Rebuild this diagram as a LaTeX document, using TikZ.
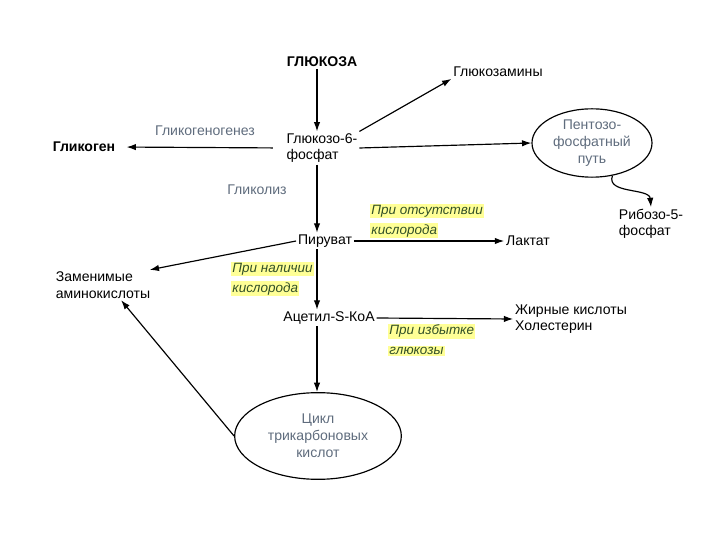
\documentclass[tikz,border=0pt]{standalone}
\usepackage{fontspec}
\setmainfont{Liberation Sans}
\usetikzlibrary{arrows.meta,shapes.geometric}

\definecolor{notegray}{RGB}{95,108,125}
\definecolor{hlyellow}{RGB}{255,255,150}
\definecolor{hlgreen}{RGB}{50,80,40}
\newcommand{\marker}[1]{{\setlength{\fboxsep}{1pt}\colorbox{hlyellow}{#1}}}

\begin{document}
\begin{tikzpicture}[x=0.03cm, y=-0.03cm,
    subst/.style={font=\fontsize{12}{14}\selectfont, align=left, inner sep=1.5pt},
    note/.style={notegray, font=\fontsize{12}{14}\selectfont},
    cond/.style={hlgreen, font=\fontsize{11.5}{17}\selectfont\itshape, align=left, inner sep=0pt},
    cycle/.style={draw=black, ellipse, line width=1pt, text=notegray, align=center,
                  inner sep=0pt, font=\fontsize{12}{14.5}\selectfont},
    flow/.style={-{Latex[length=8pt, width=5.5pt]}, line width=1pt}]
  \useasboundingbox (0,0) rectangle (720,540);
  \coordinate (col) at (317,0);

  % substances
  \node[subst, font=\fontsize{12}{14}\selectfont\bfseries] (glu) at (322,62) {ГЛЮКОЗА};
  \node[subst] (g6p)   at (322,148) {Глюкозо-6-\\фосфат};
  \node[subst] (gluam) at (498,72)  {Глюкозамины};
  \node[subst, font=\fontsize{12}{14}\selectfont\bfseries] (glyc) at (84,147) {Гликоген};
  \node[subst] (pyr)   at (325,241) {Пируват};
  \node[subst] (lac)   at (528,241) {Лактат};
  \node[subst] (amino) at (103,285) {Заменимые\\аминокислоты};
  \node[subst] (acet)  at (329,318) {Ацетил-S-КоА};
  \node[subst] (fat)   at (571,319) {Жирные кислоты\\Холестерин};
  \node[subst] (rib)   at (651,224) {Рибозо-5-\\фосфат};

  % cycles
  \node[cycle, minimum width=3.6cm, minimum height=2.05cm] (ppp) at (592,143) {Пентозо-\\фосфатный\\путь};
  \node[cycle, minimum width=5cm, minimum height=2.6cm]    (tca) at (318,436) {Цикл\\трикарбоновых\\кислот};

  % labels
  \node[note] (lglycogen) at (205,131) {Гликогеногенез};
  \node[note] (lglycol)   at (257,190) {Гликолиз};
  \node[cond, anchor=west] (lanaer) at (370,221) {\marker{При отсутствии}\\\marker{кислорода}};
  \node[cond, anchor=west] (laer)   at (231,279) {\marker{При наличии}\\\marker{кислорода}};
  \node[cond, anchor=west] (lexc)   at (388,340) {\marker{При избытке}\\\marker{глюкозы}};

  % arrows
  \draw[flow] (glu.south -| col) -- (g6p.north -| col);
  \draw[flow] (g6p.north east) -- (gluam.south west);
  \draw[flow] (g6p.east) -- (ppp.west);
  \draw[flow, shorten <=10, shorten >=8] (g6p.west) -- (glyc.east);
  \draw[flow] (g6p.south -| col) -- (pyr.north -| col);
  \draw[flow] (ppp.-58) to[out=-110, in=95] (rib.north);
  \draw[flow] (pyr.east) -- (lac.west);
  \draw[flow] (pyr.west) -- (amino.18);
  \draw[flow] (pyr.south -| col) -- (acet.north -| col);
  \draw[flow] (acet.east) -- (fat.west);
  \draw[flow] (acet.south -| col) -- (tca.north -| col);
  \draw[flow] (tca.west) -- (amino.-40);
\end{tikzpicture}
\end{document}
